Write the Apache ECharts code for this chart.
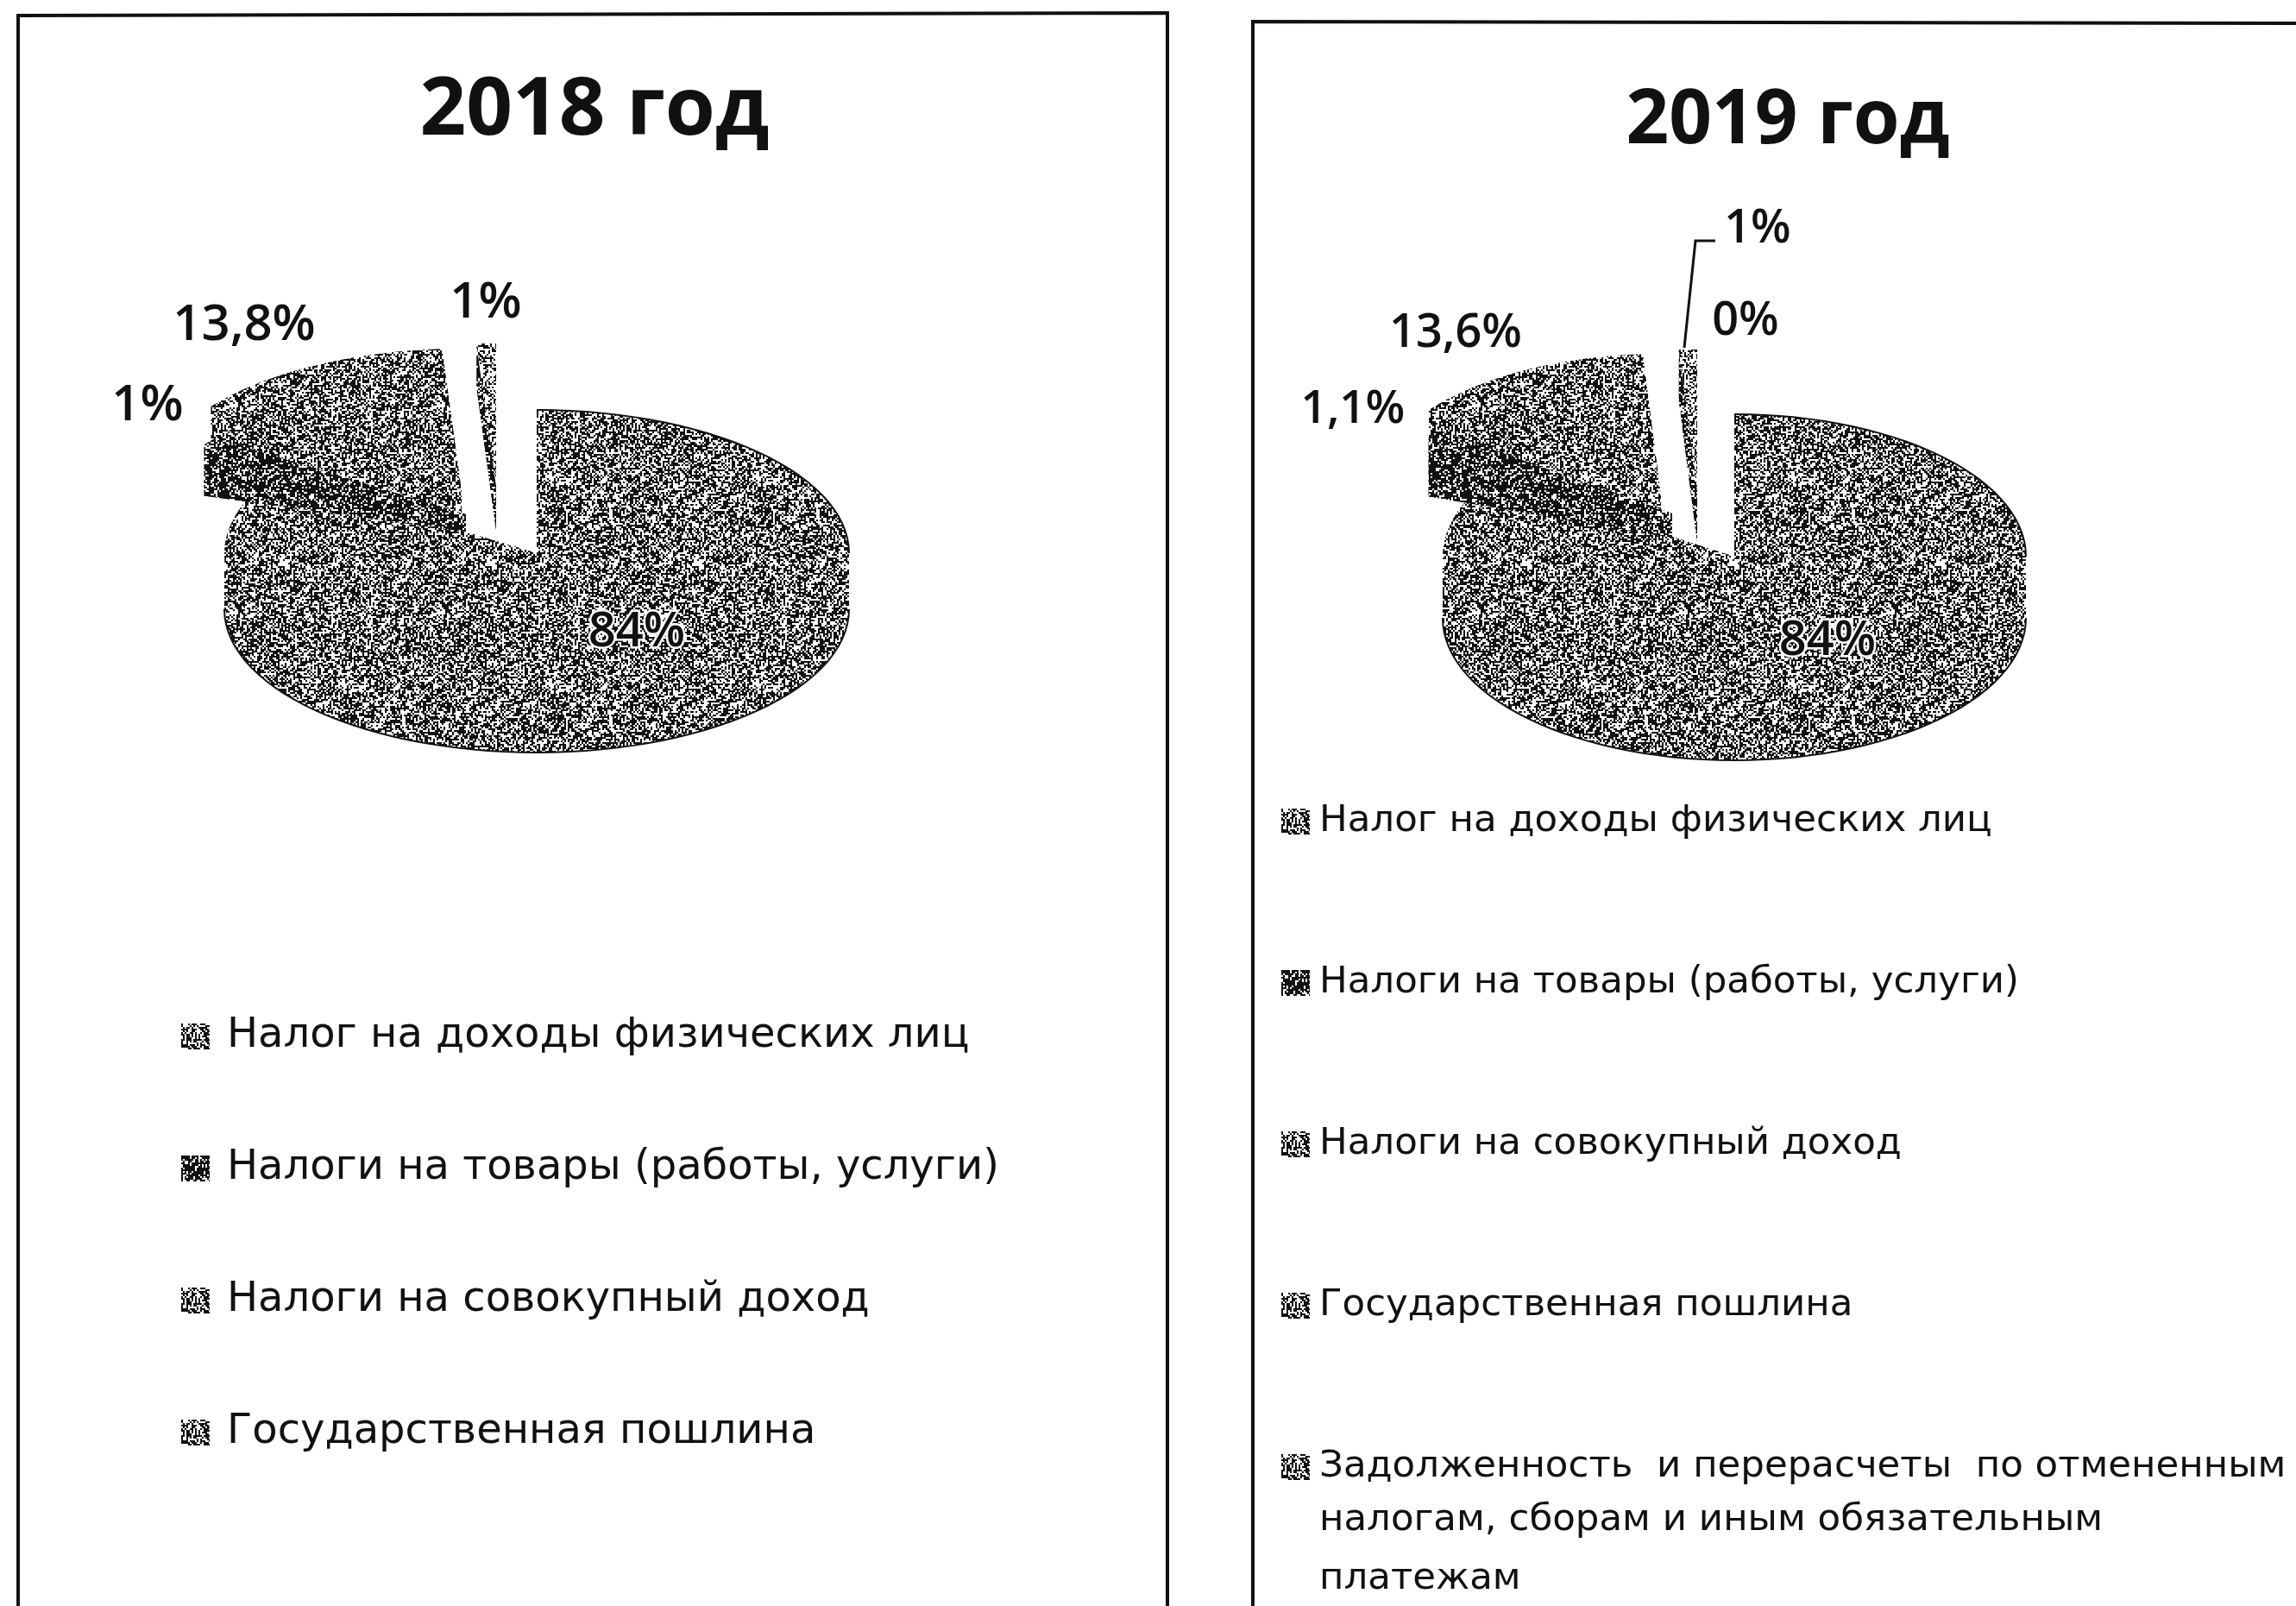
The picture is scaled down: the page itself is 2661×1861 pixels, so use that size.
<!DOCTYPE html>
<html>
<head>
<meta charset="utf-8">
<style>
  html, body { margin: 0; padding: 0; background: #fff; }
  #chart { width: 2661px; height: 1861px; }
</style>
<script src="https://cdn.jsdelivr.net/npm/echarts@6/dist/echarts.min.js"></script>
</head>
<body>
<div id="chart"></div>
<script>
// данные
const categories2018 = [
  'Налог на доходы физических лиц',
  'Налоги на товары (работы, услуги)',
  'Налоги на совокупный доход',
  'Государственная пошлина'
]
const values2018 = [84, 1, 13.8, 1]

const categories2019 = [
  'Налог на доходы физических лиц',
  'Налоги на товары (работы, услуги)',
  'Налоги на совокупный доход',
  'Государственная пошлина',
  'Задолженность  и перерасчеты  по отмененным\nналогам, сборам и иным обязательным\nплатежам'
]
const values2019 = [84, 1.1, 13.6, 1, 0]

const titles = ['2018 год', '2019 год']

// геометрия объёмных секторов (центр, радиусы, высота стенки, место подписи)
const layout2018 = [
  { ax: 622, ay: 641, rx: 362, ry: 166, depth: 65, apexDepth: 0, tone: 0, z: 2, label: [738, 733], size: 56 },
  { ax: 540, ay: 596, rx: 362, ry: 148, depth: 59, apexDepth: 20, tone: 1, z: 4, label: [171, 470], size: 58 },
  { ax: 535, ay: 570, rx: 362, ry: 166, depth: 50, apexDepth: 30, tone: 0, z: 3, label: [283, 377], size: 58 },
  { ax: 575, ay: 564, rx: 362, ry: 166, depth: 50, apexDepth: 50, tone: 2, z: 5, label: [563, 351], size: 58 }
]
const layout2019 = [
  { ax: 2010, ay: 645, rx: 338, ry: 165, depth: 71, apexDepth: 0, tone: 0, z: 2, label: [2118, 743], size: 56 },
  { ax: 1938, ay: 595, rx: 338, ry: 158, depth: 67, apexDepth: 28, tone: 1, z: 4, label: [1568, 475], size: 53 },
  { ax: 1925, ay: 575, rx: 338, ry: 165, depth: 50, apexDepth: 30, tone: 0, z: 3, label: [1687, 387], size: 54 },
  { ax: 1967, ay: 570, rx: 338, ry: 165, depth: 58, apexDepth: 58, tone: 2, z: 5, label: [2037, 266], size: 54 },
  { ax: 1990, ay: 570, rx: 338, ry: 165, depth: 0, apexDepth: 0, tone: 0, z: 5, label: [2023, 373], size: 54 }
]

const FONT_LABEL = '"Open Sans", "Noto Sans", sans-serif'
const FONT_LEGEND = '"DejaVu Sans", sans-serif'

// растровая текстура как на скане: чёрно-белый шум (без Math.random)
function makeTile(density, seed) {
  const size = 240
  const canvas = document.createElement('canvas')
  canvas.width = size
  canvas.height = size
  const ctx = canvas.getContext('2d')
  ctx.fillStyle = '#fff'
  ctx.fillRect(0, 0, size, size)
  ctx.fillStyle = '#111'
  let state = seed
  for (let y = 0; y < size; y += 2) {
    for (let x = 0; x < size; x += 2) {
      state = (state * 1664525 + 1013904223) >>> 0
      if ((state >>> 8) / 16777216 < density) ctx.fillRect(x, y, 2, 2)
    }
  }
  return { image: canvas, repeat: 'repeat' }
}
const tones = [makeTile(0.56, 7), makeTile(0.72, 11), makeTile(0.42, 23)]

function rim(g, deg, d) {
  const t = deg * Math.PI / 180
  return [g.ax + g.rx * Math.sin(t), g.ay - g.ry * Math.cos(t) + d]
}

function arc(g, a0, a1, d) {
  const pts = []
  const steps = Math.max(2, Math.ceil((a1 - a0) / 3))
  for (let i = 0; i <= steps; i++) {
    pts.push(rim(g, a0 + (a1 - a0) * i / steps, d))
  }
  return pts
}

function formatValue(v) {
  return String(v).replace('.', ',') + '%'
}

// один сектор: стенка, верхняя грань и подпись
function sliceRenderer(values, layout, index) {
  const total = values.reduce((pre, item) => pre + item, 0)
  const before = values.slice(0, index).reduce((pre, item) => pre + item, 0)
  return function (params, api) {
    const value = api.value(0)
    const a0 = before / total * 360
    const a1 = (before + value) / total * 360
    const g = layout[index]
    const children = []
    if (value > 0) {
      const wallFill = tones[g.tone === 2 ? 1 : g.tone]
      const apexTop = [g.ax, g.ay]
      const apexLow = [g.ax, g.ay + g.apexDepth]
      const top = arc(g, a0, a1, 0)
      const low = arc(g, a0, a1, g.depth)
      const wall = [
        [apexLow].concat(low),
        [apexTop, apexLow, low[0], top[0]],
        [apexTop, apexLow, low[low.length - 1], top[top.length - 1]]
      ]
      // передняя часть боковой стенки
      const front0 = Math.max(a0, 90)
      const front1 = Math.min(a1, 270)
      if (front1 > front0) {
        wall.push(arc(g, front0, front1, 0).concat(arc(g, front0, front1, g.depth).reverse()))
      }
      wall.forEach(points => {
        children.push({
          type: 'polygon',
          shape: { points: points },
          style: { fill: wallFill }
        })
      })
      children.push({
        type: 'polygon',
        shape: { points: [apexTop].concat(top) },
        style: { fill: tones[g.tone] }
      })
      // контур по видимому краю
      if (front1 > front0) {
        children.push({
          type: 'polyline',
          shape: { points: arc(g, front0, front1, g.depth) },
          style: { fill: 'none', stroke: '#111', lineWidth: 2 }
        })
      }
      if (index === 0) {
        children.push({
          type: 'polyline',
          shape: { points: arc(g, a0, 90, 0) },
          style: { fill: 'none', stroke: '#111', lineWidth: 2 }
        })
      }
    }
    const inside = index === 0
    children.push({
      type: 'text',
      style: {
        text: formatValue(value),
        x: g.label[0],
        y: g.label[1],
        align: 'center',
        verticalAlign: 'middle',
        fill: '#111',
        font: '600 ' + g.size + 'px ' + FONT_LABEL,
        stroke: inside ? '#fff' : 'transparent',
        lineWidth: inside ? 5 : 0
      }
    })
    return { type: 'group', children: children }
  }
}

function buildSeries(categories, values, layout) {
  return categories.map((name, index) => ({
    type: 'custom',
    name: name,
    coordinateSystem: 'none',
    silent: true,
    z: layout[index].z,
    itemStyle: { color: tones[layout[index].tone === 2 ? 0 : layout[index].tone] },
    data: [[values[index]]],
    renderItem: sliceRenderer(values, layout, index)
  }))
}

function buildLegend(categories, left, top, gap, fontSize, textGap) {
  return {
    orient: 'vertical',
    left: left,
    top: top,
    itemWidth: 33,
    itemHeight: 30,
    itemGap: gap,
    icon: 'rect',
    selectedMode: false,
    data: categories,
    formatter: name => name.split('\n')[0],
    textStyle: {
      fontFamily: FONT_LEGEND,
      fontSize: fontSize,
      lineHeight: 68,
      color: '#111',
      padding: [0, 0, 0, textGap]
    }
  }
}

// остальные строки длинной подписи легенды
const extraLines = categories2019[4].split('\n').slice(1)

const option = {
  backgroundColor: '#fff',
  animation: false,
  title: [
    { text: titles[0], left: 684, top: 124, textAlign: 'center', textVerticalAlign: 'middle',
      textStyle: { fontFamily: FONT_LABEL, fontWeight: 'bold', fontSize: 94, color: '#111' } },
    { text: titles[1], left: 2067, top: 136, textAlign: 'center', textVerticalAlign: 'middle',
      textStyle: { fontFamily: FONT_LABEL, fontWeight: 'bold', fontSize: 87, color: '#111' } }
  ],
  legend: [
    buildLegend(categories2018, 205, 1162, 85, 48, 15),
    buildLegend(categories2019, 1480, 913, 119, 43.5, 6)
  ],
  graphic: [
    // рамки панелей
    { type: 'polyline', shape: { points: [[21, 1861], [21, 18], [1353, 15], [1353, 1861]] },
      style: { fill: 'none', stroke: '#111', lineWidth: 4 } },
    { type: 'polyline', shape: { points: [[1452, 1861], [1452, 25], [2661, 27]] },
      style: { fill: 'none', stroke: '#111', lineWidth: 4 } },
    // выноска к подписи 1%
    { type: 'polyline', shape: { points: [[1988, 279], [1965, 279], [1952, 403]] },
      style: { fill: 'none', stroke: '#111', lineWidth: 3 } }
  ].concat(extraLines.map((line, i) => ({
    type: 'text',
    style: {
      text: line,
      x: 1529,
      y: 1762 + i * 68,
      verticalAlign: 'middle',
      fill: '#111',
      font: '43.5px ' + FONT_LEGEND
    }
  }))),
  series: buildSeries(categories2018, values2018, layout2018)
    .concat(buildSeries(categories2019, values2019, layout2019))
}

const chart = echarts.init(document.getElementById('chart'), null, { renderer: 'canvas' })
chart.setOption(option)
</script>
</body>
</html>
